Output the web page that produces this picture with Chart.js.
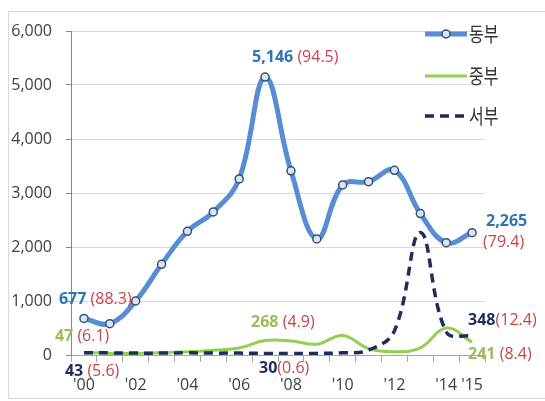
<!DOCTYPE html>
<html>
<head>
<meta charset="utf-8">
<script src="https://cdn.jsdelivr.net/npm/chart.js@4.4.1/dist/chart.umd.min.js"></script>
<style>
html,body{margin:0;padding:0;background:#fff;}
#wrap{position:relative;width:545px;height:401px;}
#frame{position:absolute;left:8px;top:11px;width:537px;height:388px;border:1px solid #d9d9d9;border-right:none;box-sizing:border-box;}
canvas{position:absolute;left:0;top:0;}
</style>
</head>
<body>
<div id="wrap">
  <div id="frame"></div>
  <canvas id="chartRegion" width="545" height="401"></canvas>
</div>
<script>
/* ===============================
  권역별 추이 (2000-2015)
================================ */
const years = [2000,2001,2002,2003,2004,2005,2006,2007,2008,2009,2010,2011,2012,2013,2014,2015];
const tickLabels = ["'00","","'02","","'04","","'06","","'08","","'10","","'12","","'14","'15"];
const seriesNames = ['동부','중부','서부'];

const east    = [677, 580, 1000, 1680, 2290, 2650, 3260, 5146, 3410, 2150, 3150, 3210, 3420, 2620, 2080, 2265];
const central = [47, 30, 30, 40, 60, 90, 130, 268, 260, 200, 360, 120, 60, 130, 500, 241];
const west    = [43, 40, 35, 35, 40, 35, 35, 30, 30, 30, 40, 90, 450, 2270, 430, 348];

// 비중(%) - 표시 연도: '00, '07, '15
const shareIdx     = [0, 7, 15];
const eastShare    = [88.3, 94.5, 79.4];
const centralShare = [6.1, 4.9, 8.4];
const westShare    = [5.6, 0.6, 12.4];

const yTicks = [0, 1000, 2000, 3000, 4000, 5000, 6000];

/* ---------- 스타일 ---------- */
const C_EAST = '#558ed5', C_CENTRAL = '#92d050', C_WEST = '#1f2d5a';
const T_EAST = '#2e75b6', T_CENTRAL = '#9bbb59', T_WEST = '#1f2d5a', T_SHARE = '#c9444a';
const FONT = "'Open Sans', sans-serif";
const KFONT = "'Noto Sans CJK KR', sans-serif";

// 값 라벨 위치 (점 기준 오프셋)
const notePos = [
    [{dx:-25,dy:-19,gap:' '}, {dx:-13,dy:-20,gap:' '}, {dx:14,dy:-11,wrap:{dx:11,dy:10}}],
    [{dx:-29,dy:-16,gap:' '}, {dx:-14,dy:-18,gap:' '}, {dx:-4,dy:12,gap:' '}],
    [{dx:-19,dy:19,gap:' '},  {dx:-6,dy:15,gap:''},    {dx:-4,dy:-16,gap:''}]
];
const valueColors = [T_EAST, T_CENTRAL, T_WEST];
const shares = [eastShare, centralShare, westShare];

const valueNotes = {
    id:'valueNotes',
    afterDatasetsDraw(chart){
        const ctx = chart.ctx;
        ctx.save();
        ctx.textAlign = 'left';
        ctx.textBaseline = 'middle';
        shares.forEach((arr, s)=>{
            const meta = chart.getDatasetMeta(s);
            shareIdx.forEach((idx, k)=>{
                const pt = meta.data[idx];
                const p = notePos[s][k];
                const val = chart.data.datasets[s].data[idx].toLocaleString('en-US');
                const shr = '(' + arr[k].toFixed(1) + ')';
                const x = pt.x + p.dx, y = pt.y + p.dy;
                ctx.font = 'bold 16px ' + FONT;
                ctx.fillStyle = valueColors[s];
                ctx.fillText(val, x, y);
                ctx.font = '16px ' + FONT;
                ctx.fillStyle = T_SHARE;
                if (p.wrap){
                    ctx.fillText(shr, pt.x + p.wrap.dx, pt.y + p.wrap.dy);
                } else {
                    ctx.font = 'bold 16px ' + FONT;
                    const w = ctx.measureText(val + p.gap).width;
                    ctx.font = '16px ' + FONT;
                    ctx.fillText(shr, x + w, y);
                }
            });
        });
        ctx.restore();
    }
};

// 범례 (차트 영역 위에 겹쳐 그림)
const sideLegend = {
    id:'sideLegend',
    afterDraw(chart){
        const ctx = chart.ctx;
        const rows = [34, 76, 116];
        const x0 = 425, x1 = 467;
        ctx.save();
        rows.forEach((y, i)=>{
            const ds = chart.data.datasets[i];
            ctx.beginPath();
            ctx.setLineDash(ds.borderDash || []);
            ctx.strokeStyle = ds.borderColor;
            ctx.lineWidth = ds.borderWidth;
            ctx.moveTo(x0, y); ctx.lineTo(x1, y);
            ctx.stroke();
            ctx.setLineDash([]);
            if (ds.pointRadius){
                ctx.beginPath();
                ctx.arc((x0+x1)/2, y, ds.pointRadius, 0, Math.PI*2);
                ctx.fillStyle = ds.pointBackgroundColor;
                ctx.fill();
                ctx.lineWidth = ds.pointBorderWidth;
                ctx.strokeStyle = ds.pointBorderColor;
                ctx.stroke();
            }
            ctx.save();
            ctx.translate(x1 + 2, y);
            ctx.scale(1, 1.3);
            ctx.font = '16px ' + KFONT;
            ctx.fillStyle = '#333333';
            ctx.textAlign = 'left';
            ctx.textBaseline = 'middle';
            ctx.fillText(seriesNames[i], 0, 0);
            ctx.restore();
        });
        ctx.restore();
    }
};

document.addEventListener("DOMContentLoaded", function () {

    Chart.defaults.font.family = FONT;

    new Chart(document.getElementById('chartRegion'),{
        type:'line',
        data:{
            labels:tickLabels,
            datasets:[{
                label:seriesNames[0],
                data:east,
                borderColor:C_EAST,
                borderWidth:5,
                tension:0.4,
                pointRadius:4,
                pointBorderWidth:1.5,
                pointBackgroundColor:'#dbe5f1',
                pointBorderColor:'#34507a',
                order:0
            },{
                label:seriesNames[1],
                data:central,
                borderColor:C_CENTRAL,
                borderWidth:3,
                tension:0.4,
                pointRadius:0,
                order:2
            },{
                label:seriesNames[2],
                data:west,
                borderColor:C_WEST,
                borderWidth:3.5,
                borderDash:[9,6],
                tension:0.4,
                pointRadius:0,
                order:1
            }]
        },
        options:{
            responsive:false,
            animation:false,
            layout:{padding:{top:31,right:60,bottom:0,left:0}},
            plugins:{legend:{display:false},tooltip:{enabled:false}},
            scales:{
                x:{
                    offset:true,
                    grid:{offset:true,drawOnChartArea:false,tickLength:7,tickColor:'#a6a6a6'},
                    border:{color:'#a6a6a6'},
                    ticks:{autoSkip:false,maxRotation:0,padding:14,color:'#404040',font:{size:16}},
                    afterFit(scale){ scale.height = 46; }
                },
                y:{
                    min:yTicks[0],
                    max:yTicks[yTicks.length-1],
                    afterBuildTicks(scale){ scale.ticks = yTicks.map(v=>({value:v})); },
                    grid:{color:'#d9d9d9',tickColor:'#868686',tickLength:5},
                    border:{color:'#868686'},
                    ticks:{padding:14,color:'#404040',font:{size:16},
                        callback:v=>v.toLocaleString('en-US')},
                    afterFit(scale){ scale.width = 71; }
                }
            }
        },
        plugins:[valueNotes, sideLegend]
    });

});
</script>
</body>
</html>
